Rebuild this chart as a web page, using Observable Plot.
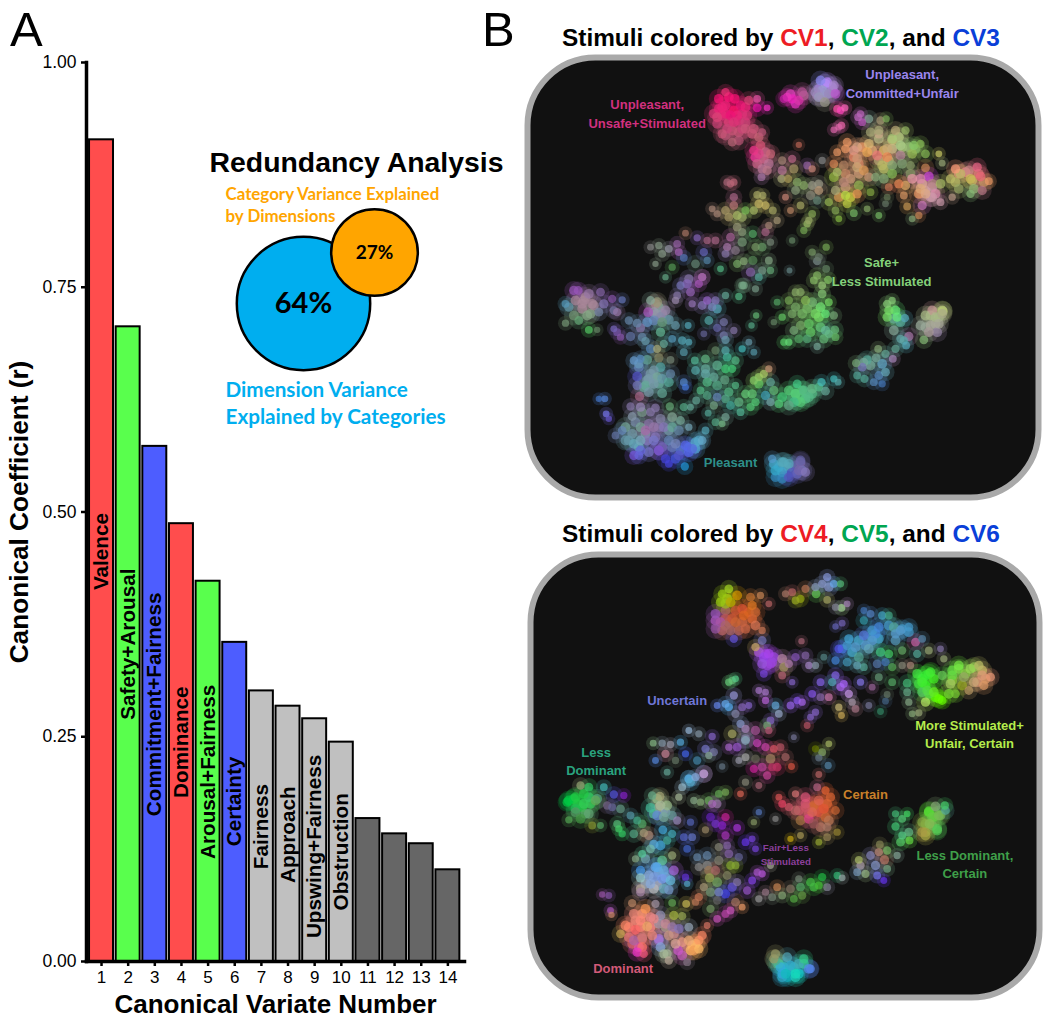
<!DOCTYPE html>
<html><head><meta charset="utf-8">
<script src="https://cdn.jsdelivr.net/npm/d3@7"></script>
<script src="https://cdn.jsdelivr.net/npm/@observablehq/plot@0.6"></script>
<style>
html,body{margin:0;padding:0;background:#fff}
#root{position:relative;width:1050px;height:1019px;overflow:hidden;font-family:"Liberation Sans",Arial,sans-serif}
.h{position:absolute;font-weight:bold;font-size:24.4px;white-space:nowrap;color:#000;line-height:28px}
.l{position:absolute;font-size:49px;line-height:49px;color:#000}
</style></head><body><div id="root"></div>
<script>
// ---- Panel A data
const variateNumbers=[1,2,3,4,5,6,7,8,9,10,11,12,13,14];
const canonicalR=[.914,.706,.573,.487,.423,.355,.301,.284,.27,.244,.159,.142,.131,.102];
const barKinds=["r","g","b","r","g","b","s","s","s","s","n","n","n","n"];
const barLabels=["Valence","Safety+Arousal","Commitment+Fairness","Dominance","Arousal+Fairness","Certainty","Fairness","Approach","Upswing+Fairness","Obstruction"];
const labelCentres=[.456,.353,.286,.244,.211,.178,.15,.141,.128,.122];
const yTicks=[0,.25,.5,.75,1];
const vennValues=[64,27];
// ---- Panel B data: [x, y, CV scores as one hex digit per colour channel]
// Embedding; one list per quadrant of each panel.
const topNW=[[600,125,"e37"],[580,145,"f17"],[628,145,"f17"],[600,165,"e27"],[565,190,"d37"],[625,180,"f16"],[650,190,"d37"],[670,150,"d47"],[695,145,"e5a"],[695,172,"e1a"],[725,172,"f3c"],[590,195,"d37"],[640,210,"d37"],[610,215,"d47"],[660,215,"c47"],[575,220,"c47"],[620,240,"c57"],[590,250,"c57"],[640,245,"c57"],[685,235,"c57"],[710,245,"b57"],[620,275,"b67"],[600,255,"b57"],[680,250,"c57"],
[685,300,"e38"],[705,285,"d57"],[735,310,"c67"],[715,325,"c68"],[730,340,"b79"],[710,355,"b79"],[708,380,"a7a"],[690,320,"e39"],[775,145,"c2a"],[770,330,"a87"],[768,385,"aa7"],[770,360,"b79"],
[615,400,"b67"],[605,395,"a67"],[625,395,"b67"],
[560,475,"a87"],[575,490,"a87"],[600,480,"a96"],[625,440,"a68"],[625,465,"b77"],[610,500,"a96"],[635,495,"ab6"],[660,480,"7b5"],[650,500,"9a6"],[695,433,"aa6"],[712,435,"aa6"],[700,460,"cb6"],[720,465,"cb6"],[742,480,"aa6"],[685,480,"ab6"],[755,510,"a97"],[730,525,"a87"],[635,530,"997"],[650,545,"897"],
[480,548,"a76"],[515,562,"86b"],[545,570,"a68"],[570,570,"a68"],[400,585,"898"],[375,590,"888"],[430,595,"99a"],[455,580,"96a"],[410,610,"898"],[390,640,"898"],[460,605,"a6b"],[475,622,"57b"],[440,650,"595"],[535,605,"66b"],[545,630,"58a"],[510,640,"687"],
[615,560,"a69"],[682,550,"5a6"],[720,545,"a68"],[735,575,"787"],[690,590,"796"],[710,590,"696"],[650,575,"797"],[605,590,"a7a"],[600,610,"87a"],[630,600,"878"],[585,655,"5b8"],[635,640,"7a6"],[655,632,"8a7"],[682,630,"585"],[730,630,"8a8"],[675,665,"86a"],[710,660,"798"],[735,660,"6a7"],[700,680,"5a9"],[420,680,"6a8"],[530,680,"96a"],[490,685,"87a"]];
const topNE=[[5,140,"e3b"],[20,145,"e2b"],[40,150,"d3a"],[50,125,"b59"],[125,95,"b8f"],[105,90,"88e"],[145,105,"a8c"],[110,120,"99c"],[90,125,"98b"],[130,130,"98b"],[100,140,"99b"],[150,130,"b5c"],[118,155,"998"],
[165,180,"f4b"],[155,175,"f5a"],[178,172,"f6b"],[160,230,"d6a"],[145,238,"d6a"],[168,225,"e6a"],[225,190,"b6b"],[230,215,"b5b"],[250,205,"8a9"],[218,200,"b6b"],
[285,210,"a97"],[302,205,"7a5"],[280,240,"aa7"],[255,245,"aa7"],[330,240,"ba7"],[360,240,"9b6"],[340,260,"ab7"],[320,265,"ac7"],[345,285,"ac8"],[385,285,"8c6"],[405,280,"8b5"],[185,275,"e96"],[215,290,"da8"],[250,280,"db7"],[280,265,"bb8"],[305,295,"ca7"],[245,305,"ea5"],[155,305,"e96"],[180,295,"e96"],[205,300,"d98"],[275,315,"e77"],[305,320,"e85"],[345,315,"b89"],[380,310,"9b5"],[420,310,"8b5"],[460,310,"cc6"],[470,338,"9a7"],[145,340,"d85"],[175,345,"b86"],[215,325,"c97"],[215,350,"ca7"],[235,360,"d95"],[180,370,"c86"],[145,380,"9b4"],[155,365,"ab6"],[110,330,"888"],[290,345,"bb6"],[295,355,"bb6"],[320,345,"8a7"],[350,340,"8a7"],[375,345,"896"],[375,370,"896"],[270,380,"8a7"],[295,385,"8a7"],[320,370,"8b5"],[420,352,"c85"],
[430,378,"c4d"],[405,385,"d8a"],[380,385,"e9a"],[360,405,"da6"],[405,415,"da7"],[440,400,"b88"],[465,400,"ab6"],[495,385,"bb6"],[510,355,"f97"],[550,360,"c88"],[575,350,"e68"],[525,370,"bb6"],[585,378,"e67"],[610,392,"e96"],[555,385,"cb5"],[520,415,"9a6"],[590,420,"b78"],[555,430,"8b7"],[500,440,"b98"],[465,455,"c9a"],[440,440,"c9a"],[420,430,"da8"],[410,465,"c7b"],[365,468,"c95"],[380,505,"8a7"],[400,495,"c85"],[355,435,"d96"],[310,410,"c75"],[340,400,"e85"],
[130,455,"9b5"],[150,480,"8a5"],[160,505,"8b4"],[205,488,"7b6"],[245,475,"8a6"],[280,495,"7b6"],[255,425,"8a4"],[220,405,"9b5"],[180,435,"bd4"],[160,440,"d95"],[185,460,"bc4"],[215,430,"e95"],[195,385,"c97"],[175,395,"b87"],[300,460,"676"],[305,440,"675"],[20,570,"686"],[65,520,"9b6"],[80,490,"8a5"],[55,540,"7a5"],[70,510,"9a6"],[100,400,"998"],[80,405,"998"],[100,420,"b97"],[75,435,"887"],[95,450,"687"],[55,405,"8a6"],[35,395,"8a6"],[65,345,"96a"],[80,355,"c87"],[20,325,"b68"],[25,355,"a96"],[40,283,"b65"],[0,440,"c87"],[15,480,"b86"],[45,465,"aa6"],[8,385,"a95"],[30,420,"897"],
[80,605,"796"],[122,590,"7a5"],[100,620,"676"],[95,632,"788"],[12,660,"688"],[122,655,"686"]];
const topSW=[[120,100,"59b"],[158,60,"95b"],[175,90,"a89"],[190,70,"97a"],[225,65,"86a"],[205,105,"a89"],[170,115,"a89"],[260,85,"85a"],[290,88,"67b"],[235,100,"87b"],[220,125,"78a"],[265,120,"77a"],[185,135,"8a8"],[145,135,"797"],[160,150,"6a7"],[120,158,"797"],[190,178,"5c6"],[215,178,"686"],[275,125,"97a"],
[275,185,"75a"],[285,200,"85a"],[265,175,"76b"],[310,150,"68a"],[335,158,"68a"],[345,172,"87a"],[315,198,"67a"],[350,200,"68a"],[360,212,"69a"],
[395,95,"997"],[375,90,"8a9"],[420,120,"98a"],[385,125,"99a"],[368,125,"a5b"],[405,140,"88a"],[385,150,"68b"],[365,155,"69c"],[430,148,"69a"],[410,155,"697"],[450,165,"69a"],[405,185,"6b9"],[440,205,"59b"],[415,220,"6a9"],[470,210,"5ab"],[490,215,"5ab"],[475,245,"59a"],[488,165,"5ab"],
[530,20,"a6a"],[485,40,"86b"],[465,45,"77b"],[520,40,"a5b"],[495,65,"96b"],[455,75,"87a"],[450,90,"98a"],[545,90,"96c"],[570,90,"87b"],[560,110,"78b"],[500,100,"97b"],[530,105,"87b"],[600,75,"6a9"],[640,78,"5b8"],[655,45,"7a8"],[690,55,"798"],[575,115,"5ab"],
[550,150,"5aa"],[595,155,"77a"],[575,172,"66a"],[535,190,"669"],[595,195,"77a"],[625,180,"87a"],[600,208,"69a"],[650,235,"4bb"],[670,215,"69a"],[685,245,"59a"],
[570,240,"686"],[600,240,"5aa"],[605,260,"4b9"],[508,270,"5b9"],[540,265,"6b8"],[575,285,"6b9"],[630,270,"5b8"],[510,300,"5aa"],[540,295,"6a9"],[540,310,"6aa"],[600,295,"4c7"],[620,295,"4c7"],[565,320,"6a9"],
[545,335,"5b8"],[575,345,"5a8"],[610,365,"5b8"],[630,345,"5b8"],[600,385,"5a8"],[525,360,"5b8"],[575,380,"68b"],[545,375,"5a8"],[598,328,"6a8"],[512,390,"6a9"],[475,410,"5a8"],[495,410,"6a9"],[433,408,"6a7"],[548,428,"5a9"],[565,405,"7a8"],
[375,235,"58b"],[395,235,"aa7"],[345,265,"58b"],[365,268,"6a9"],[325,270,"69c"],[400,262,"886"],[435,268,"787"],[340,290,"68b"],[405,290,"5aa"],[385,300,"79a"],[435,310,"68a"],[335,318,"55c"],[395,320,"7a9"],[370,325,"79a"],[410,325,"69a"],[430,335,"5a9"],[335,345,"77b"],[360,345,"6a9"],[385,340,"79a"],[370,365,"79a"],[410,368,"6a9"],
[475,335,"58c"],[480,350,"47d"],[220,385,"47c"],[238,385,"58d"],[242,430,"77e"],[250,445,"65c"],
[342,378,"a68"],[315,408,"87a"],[345,410,"98b"],[390,412,"87a"],[375,425,"87a"],[350,425,"798"],[320,438,"89a"],[330,455,"78a"],[300,470,"7a9"],[270,495,"67a"],[290,480,"68b"],[345,470,"7a9"],[360,480,"a6a"],[385,470,"97a"],[405,445,"88a"],[440,440,"8a9"],[465,450,"7a9"],[415,470,"87b"],[440,470,"6a9"],[490,470,"7ab"],[460,480,"68a"],[325,520,"6ab"],[345,510,"7ab"],[300,510,"69a"],[325,555,"75d"],[345,540,"66d"],[400,540,"75c"],[385,510,"77c"],[420,565,"44d"],[430,510,"68b"],[460,555,"55c"],[480,525,"56e"],[510,515,"5ac"],[530,510,"6ac"],[478,588,"29d"],[500,535,"56d"],[450,520,"78b"],
[730,295,"c97"],[700,320,"9c6"],[715,310,"ac6"],[685,330,"8c6"],[660,370,"6c7"],[690,395,"5c7"],[640,395,"6b8"],[675,410,"5c7"],[615,405,"4a9"],[645,425,"5b9"],[600,440,"7a9"],[590,460,"7b8"],[570,455,"5a8"],[540,480,"5ab"],[735,335,"6a9"],[745,360,"6b7"],[720,375,"4ab"],[735,395,"7aa"],[770,380,"4c7"],[760,400,"5c7"],
[740,565,"59c"],[750,600,"3ac"],[775,575,"5ab"],[770,625,"38b"],
[755,95,"5a6"],[770,140,"6c6"],[775,215,"5c6"],[745,155,"686"],[692,135,"6b7"],[678,165,"5a8"],[650,45,"7a8"]];
const topSE=[[95,15,"8b6"],[85,30,"8b6"],[128,28,"8c6"],[110,45,"9c7"],[110,70,"8c7"],[130,95,"7d6"],[105,110,"7e7"],[120,130,"6e7"],[100,140,"7d6"],[80,95,"7b7"],[60,90,"8b5"],[65,115,"7b6"],[45,65,"8a6"],[30,65,"8a6"],[10,90,"7a5"],[30,110,"7a6"],[50,130,"7b6"],[70,160,"6c6"],[75,185,"6c6"],[105,170,"6c7"],[120,180,"6b9"],[148,178,"6b7"],[130,190,"6b8"],[115,205,"6b7"],[150,200,"6b6"],[95,228,"7a9"],[25,180,"7a7"],[10,215,"6d7"],[40,205,"5a6"],[65,205,"5a7"],[20,130,"7a6"],[45,165,"7a6"],[145,135,"7a7"],[90,130,"7d6"],
[325,145,"6a9"],[345,155,"5a9"],[358,143,"5ab"],[325,180,"8a9"],[355,210,"5aa"],[370,198,"a7a"],[345,205,"6aa"],[362,225,"5ab"],[330,235,"6a9"],[322,265,"a8b"],[278,235,"8a7"],[300,250,"6a9"],[290,280,"6ac"],[255,285,"7a9"],[272,262,"7a9"],[235,275,"7a9"],[245,268,"5a9"],[212,278,"7a7"],[230,290,"77b"],[215,315,"5a9"],[237,325,"5a9"],[280,315,"58b"],[290,340,"47b"],[265,335,"58b"],[300,305,"6ab"],
[440,120,"c99"],[472,122,"bc7"],[420,135,"ab8"],[450,140,"ab8"],[470,130,"aa8"],[435,165,"aa9"],[455,185,"98a"],[460,160,"aa9"],[415,208,"8b7"],[405,165,"9a9"],[430,185,"a99"],
[35,340,"4c8"],[10,360,"5c7"],[30,370,"5c7"],[55,360,"5b8"],[80,355,"6b8"],[108,335,"4bb"],[120,362,"6a9"],[45,395,"5c7"],[25,395,"4b8"],[10,405,"6a8"],[70,380,"5b8"],[145,325,"4bb"],[158,335,"5aa"],
[10,580,"5ab"],[40,600,"76a"],[60,605,"87b"],[45,570,"66a"],[10,620,"55b"]];
// Further overlapping points inside the dense clusters of the upper map
const topDense=[[590,170,"e27"],[610,140,"f17"],[645,165,"e17"],[660,170,"e27"],[635,195,"e27"],[600,190,"e27"],[580,175,"e27"],[615,195,"e17"],[650,235,"c47"],[605,235,"c47"],[660,235,"c57"],[575,200,"d47"],[625,215,"d37"],[665,195,"d37"],[700,260,"c67"],[640,270,"b57"],[720,305,"c68"],[700,310,"d48"],[695,340,"c68"],[725,360,"b78"],
[795,130,"d4b"],[810,160,"d3b"],[835,135,"b69"],[880,115,"a8d"],[900,100,"a9e"],[920,110,"a8d"],[890,140,"a8b"],[905,130,"99c"],[925,125,"a7c"],[875,135,"a8b"],
[1060,250,"ca8"],[1100,270,"cb7"],[1040,300,"da7"],[1010,290,"e96"],[1075,300,"db6"],[1120,260,"ab7"],[1130,290,"ac7"],[1150,290,"9b7"],[1170,295,"8b6"],[1100,295,"cb8"],[985,320,"e86"],[1000,340,"d86"],[1060,330,"ba7"],[1090,330,"cb7"],[1000,370,"c97"],[1030,380,"c97"],
[1190,400,"da9"],[1200,420,"da9"],[1220,410,"c9a"],[1215,440,"c9a"],[1230,430,"d8a"],[1180,430,"e96"],[1300,370,"d97"],[1320,365,"e88"],[1340,390,"cb6"],[1360,370,"d77"],[1375,395,"c96"],[1345,415,"9b7"],[1290,395,"bb6"],[975,440,"cc4"],[960,410,"c97"],[930,420,"aa7"],
[400,1130,"87a"],[370,1120,"87a"],[430,1140,"79a"],[360,1150,"89a"],[320,1150,"79a"],[310,1170,"69a"],[340,1190,"6ab"],[365,1170,"87b"],[390,1160,"87b"],[410,1190,"76b"],[440,1190,"67b"],[465,1200,"57c"],[490,1190,"57d"],[450,1225,"45d"],[430,1240,"44d"],[490,1205,"56e"],[510,1195,"5ad"],[340,1215,"66d"],[520,1170,"5ac"],[400,1200,"85c"],[370,1205,"77c"],
[180,740,"a89"],[150,750,"a89"],[200,760,"a89"],[170,760,"a89"],[145,720,"95b"],[130,770,"69a"],[195,790,"8a8"],
[400,770,"8a9"],[390,760,"a88"],[410,790,"98a"],[395,790,"89a"],[340,940,"69b"],[375,970,"79a"],[385,985,"79a"],[365,990,"79a"],[400,1000,"6a9"],[355,1010,"6a9"],
[1085,760,"8c7"],[1090,780,"7d6"],[1100,750,"8c7"],[1110,780,"6e7"],[1115,800,"6e7"],[1085,800,"7d6"],
[745,1240,"4ac"],[760,1250,"4ac"],[770,1235,"5ab"],[790,1250,"5ab"],[810,1245,"66a"],[825,1235,"76a"],[800,1265,"55b"],[785,1275,"45b"],[750,1280,"38b"],[770,1265,"4ac"],[830,1260,"77b"],[815,1270,"66b"],
[1215,795,"ab8"],[1230,820,"aa9"],[1240,800,"ab8"],[1200,830,"9a9"],[1250,780,"bc7"],
[830,1020,"5c7"],[810,1030,"5c7"],[840,1045,"5c8"],[880,1010,"5b8"],[860,1030,"5b8"],[815,1050,"5c7"],[700,1000,"6c6"],[680,1030,"6c7"]];

const botNW=[[590,130,"9c1"],[610,115,"ad2"],[635,135,"d90"],[675,140,"c73"],[705,135,"c85"],[730,160,"b66"],[570,210,"a5b"],[600,180,"a66"],[630,180,"c53"],[670,185,"d62"],[680,205,"d63"],[590,240,"b66"],[625,265,"65d"],[690,225,"d75"],[710,240,"c75"],[570,190,"95b"],[605,145,"ac1"],[650,215,"c64"],[610,215,"b65"],[640,240,"b65"],[600,205,"b55"],
[690,290,"ca6"],[710,270,"77b"],[720,310,"a4d"],[735,340,"a4d"],[715,370,"74d"],[700,305,"a5d"],[745,320,"94d"],[725,345,"94d"],[770,325,"b8a"],[770,375,"b67"],[775,350,"a96"],
[620,390,"6b7"],[610,395,"6c7"],[630,385,"5c8"],
[575,465,"68e"],[600,460,"6ae"],[625,435,"99d"],[610,470,"5ae"],[630,490,"88a"],[650,470,"86b"],[670,465,"86c"],[700,420,"a7c"],[720,425,"a7c"],[720,450,"b6d"],[750,465,"6ad"],[760,490,"9ac"],[735,510,"86c"],[645,520,"89c"],[660,535,"a8b"],[725,525,"7a7"],[660,570,"8ab"],[620,550,"aa6"],[690,540,"a59"],[730,540,"b57"],
[383,578,"8b8"],[410,578,"89a"],[435,582,"99a"],[465,575,"5ad"],[490,540,"9bd"],[520,550,"89a"],[560,558,"86c"],[420,610,"c89"],[390,630,"58d"],[480,610,"46e"],[515,630,"48a"],[540,595,"77c"],[550,615,"8a9"],[565,605,"77a"],[450,630,"676"],[425,665,"6a9"],[490,685,"5ad"],[535,670,"a8c"],[590,648,"678"],
[610,590,"a6c"],[635,590,"95c"],[660,565,"88a"],[695,578,"c4b"],[720,590,"c4a"],[745,595,"d56"],[765,590,"b56"],[640,630,"99a"],[660,620,"aaa"],[690,625,"665"],[685,655,"c29"],[735,625,"a86"],[710,650,"b49"],[740,650,"b36"],[725,675,"c49"],[755,650,"c36"]];
const botNE=[[20,125,"b66"],[45,145,"9a1"],[30,150,"9a2"],[60,115,"b75"],[92,130,"6c5"],[125,80,"89d"],[110,100,"89c"],[145,100,"6ae"],[165,100,"5b7"],[130,110,"89c"],[125,148,"aa6"],[90,110,"89b"],[0,130,"a76"],
[168,172,"ad9"],[185,160,"a8b"],[150,170,"889"],[170,218,"76b"],[150,228,"66b"],[235,180,"47b"],[255,190,"58c"],[235,210,"39a"],[48,272,"a67"],
[290,195,"4ac"],[310,195,"4a8"],[325,230,"5a9"],[370,230,"49c"],[345,240,"59c"],[260,240,"49c"],[280,230,"48d"],[190,265,"4ad"],[235,255,"57d"],[260,270,"59c"],[160,295,"55e"],[185,285,"49c"],[210,290,"59c"],[250,295,"6ab"],[285,305,"4c8"],[310,310,"4c6"],[350,300,"6a6"],[390,275,"c6a"],[430,300,"9a7"],[465,295,"87a"],[475,325,"9a7"],[150,330,"48d"],[185,335,"49b"],[220,320,"5a9"],[235,350,"5a9"],[115,320,"588"],[275,340,"57a"],[300,335,"47b"],[320,350,"5a5"],[350,345,"887"],[375,345,"a87"],[365,398,"4b7"],[330,270,"59b"],[410,265,"58a"],[395,310,"5a9"],[215,345,"6ab"],[280,380,"697"],[320,395,"5a6"],
[395,370,"4e4"],[420,375,"3e3"],[435,365,"4e3"],[410,395,"4e3"],[460,445,"6f0"],[420,455,"be6"],[365,425,"6a8"],[425,420,"5d4"],[445,425,"6e2"],[500,375,"6d4"],[520,345,"7e4"],[555,355,"9d5"],[580,345,"bb6"],[590,375,"d97"],[615,380,"e97"],[565,395,"ca7"],[595,405,"d96"],[490,430,"7d3"],[510,430,"7c3"],[530,405,"9a2"],[550,420,"b96"],[495,400,"ac6"],[370,455,"8a8"],[400,487,"9a7"],[380,490,"8a7"],[285,483,"386"],[470,375,"6c5"],[535,380,"9a6"],
[150,375,"86e"],[175,400,"a6f"],[190,430,"c9e"],[165,410,"a6e"],[200,455,"a9a"],[210,475,"a78"],[250,465,"779"],[225,395,"87e"],[260,410,"969"],[300,452,"468"],[305,432,"676"],[160,470,"cb7"],[168,495,"ca5"],[65,525,"b56"],[90,485,"86c"],[75,500,"86c"],[105,395,"86e"],[80,430,"85e"],[35,450,"85e"],[50,455,"a6e"],[30,320,"85b"],[70,345,"a8c"],[90,345,"89a"],[60,315,"86a"],[10,340,"a7a"],[20,395,"86c"],[140,395,"5ab"],[130,440,"c7a"],[105,440,"86a"],[15,465,"96e"],
[25,560,"779"],[90,595,"670"],[130,580,"ab6"],[110,605,"8a6"],[100,622,"678"],[18,648,"d54"],[128,645,"58a"],[0,620,"a66"]];
const botSW=[[130,90,"0c4"],[150,80,"2c4"],[165,45,"9a7"],[190,50,"3c6"],[235,50,"4bb"],[265,72,"55d"],[295,75,"82c"],[175,100,"3c5"],[210,90,"6a5"],[175,70,"2c4"],[260,110,"669"],[285,115,"698"],[190,130,"6a7"],[150,125,"596"],[165,145,"494"],[130,148,"5a5"],[200,165,"893"],[225,165,"5a6"],[245,105,"768"],
[280,175,"4c6"],[290,190,"3c6"],[275,160,"5b7"],[315,135,"59a"],[335,150,"4a8"],[350,160,"5a6"],[325,190,"5a8"],[355,188,"a97"],[370,195,"a87"],
[403,78,"aa7"],[380,75,"6a8"],[425,105,"9b8"],[405,105,"ab9"],[375,112,"4b9"],[395,135,"68d"],[440,135,"699"],[455,150,"98b"],[415,140,"7a9"],
[412,178,"4ad"],[440,190,"4ab"],[425,210,"4a9"],[475,200,"56c"],[500,200,"67c"],[485,235,"46c"],[495,155,"56b"],
[535,10,"b9c"],[490,25,"5ad"],[470,50,"9bc"],[495,35,"5ac"],[460,80,"ab9"],[510,20,"8ad"],[550,90,"6a5"],[580,70,"6a5"],[560,100,"a6b"],[525,95,"8a7"],[505,90,"8a8"],[600,65,"7a5"],[645,70,"d65"],[660,35,"887"],[700,45,"a67"],[575,100,"97a"],
[555,140,"62b"],[600,140,"c29"],[570,160,"73c"],[540,178,"986"],[590,165,"82c"],[635,172,"a3d"],[600,195,"a3b"],[660,215,"63e"],[680,205,"74d"],[690,235,"74d"],[700,125,"57b"],[685,155,"896"],
[580,230,"887"],[605,225,"86a"],[610,250,"86a"],[515,260,"68a"],[545,255,"68a"],[580,270,"887"],[640,260,"669"],[520,290,"888"],[545,285,"888"],[550,300,"975"],[615,285,"8a3"],[630,285,"8a3"],[570,300,"a66"],
[552,322,"9a5"],[575,335,"7a6"],[620,350,"65d"],[635,335,"87a"],[600,370,"44e"],[535,350,"a97"],[580,365,"78c"],[555,365,"797"],[605,315,"886"],[520,380,"c75"],[482,400,"cb5"],[510,395,"b75"],[440,397,"6a5"],[555,415,"796"],[575,390,"666"],
[385,222,"5ad"],[405,225,"4ad"],[350,250,"5c9"],[375,235,"7ba"],[330,265,"8a8"],[410,270,"6c9"],[440,255,"9a7"],[345,300,"49e"],[395,290,"5ae"],[415,300,"6ad"],[445,300,"a6d"],[345,322,"9cc"],[385,320,"79d"],[370,315,"8ad"],[410,325,"79e"],[435,330,"6bd"],[345,355,"ba9"],[385,355,"bbb"],[415,355,"6ab"],[375,340,"8ad"],[430,358,"79c"],
[480,320,"63d"],[485,340,"5ac"],[230,372,"95a"],[250,375,"85a"],[255,420,"a5b"],[258,433,"c86"],
[345,365,"a8a"],[320,398,"b86"],[300,465,"f86"],[285,490,"ca5"],[325,430,"e87"],[360,415,"f95"],[390,400,"a9a"],[405,435,"99b"],[345,450,"f87"],[365,468,"ea6"],[330,478,"f66"],[385,445,"e88"],[420,460,"c89"],[445,435,"ab4"],[470,437,"9a5"],[440,470,"97a"],[490,470,"9ab"],[460,475,"87b"],[325,510,"a6a"],[350,500,"c77"],[335,545,"e3c"],[350,530,"f76"],[400,505,"a7d"],[380,495,"e87"],[425,550,"ab9"],[430,495,"c98"],[458,540,"c5c"],[510,520,"fb6"],[530,495,"f86"],[485,575,"878"],[505,540,"e95"],[450,520,"da9"],[405,530,"8ad"],[490,510,"ea7"],
[735,285,"aa9"],[710,310,"b5d"],[695,305,"a5c"],[680,330,"84e"],[665,360,"95c"],[700,385,"999"],[650,410,"e96"],[630,395,"a76"],[615,420,"c5b"],[600,430,"b4a"],[575,445,"c5b"],[545,465,"d76"],[755,350,"c85"],[740,380,"787"],[770,375,"8a7"],[720,365,"978"],
[750,550,"996"],[760,580,"4c9"],[765,590,"3ad"],[770,610,"3ad"],[750,570,"5a8"],
[750,145,"888"],[770,100,"e46"],[760,80,"d55"]];
const botSE=[[100,12,"b66"],[120,60,"e63"],[135,80,"d63"],[115,115,"d53"],[150,120,"c63"],[85,105,"c63"],[60,80,"d57"],[30,70,"d77"],[10,110,"c56"],[45,150,"a74"],[70,145,"d48"],[105,170,"b76"],[155,185,"983"],[100,215,"9a3"],[15,205,"ca1"],[45,195,"a95"],[125,200,"985"],[85,160,"955"],[100,90,"d65"],[80,125,"d65"],[30,120,"b66"],[60,110,"c56"],[130,150,"b75"],[125,170,"a76"],[95,50,"b68"],
[330,130,"4b7"],[365,130,"4d6"],[350,145,"5c7"],[330,168,"4c7"],[350,195,"5c8"],[370,185,"6b8"],[372,210,"6d4"],[345,215,"5c6"],[335,255,"8a9"],[283,222,"885"],[305,240,"7b6"],[297,268,"b76"],[280,245,"b87"],[255,255,"88b"],[220,268,"ab6"],[270,285,"89c"],[240,310,"9b8"],[215,305,"79b"],[275,315,"77e"],[295,330,"63e"],[225,285,"a9a"],[305,295,"7a8"],
[430,122,"5d3"],[478,105,"4c6"],[450,108,"8a7"],[440,140,"6c4"],[460,135,"7b5"],[410,155,"8a4"],[455,175,"5c5"],[420,195,"aa4"],[410,185,"a94"],[432,160,"8b5"],[480,120,"5a9"],
[40,325,"787"],[15,355,"876"],[50,375,"694"],[25,385,"5a4"],[85,350,"4b4"],[110,320,"2b4"],[125,350,"889"],[75,335,"4b4"],[45,350,"5a6"],[155,315,"3b7"],[170,322,"9aa"],[100,345,"4b3"],
[5,560,"5ab"],[30,610,"1db"],[55,565,"3c8"],[75,595,"58e"],[0,610,"1bb"],[40,580,"4ab"],[15,585,"3ac"]];
// Further overlapping points inside the dense clusters of the lower map
const botDense=[[620,205,"c53"],[650,175,"d53"],[655,195,"d62"],[630,215,"c63"],[690,185,"c63"],[680,165,"d72"],[585,155,"9c1"],[600,160,"9b2"],[615,155,"ba0"],[585,215,"a5a"],[570,235,"95a"],[600,225,"a66"],[615,240,"a66"],[660,235,"c64"],
[715,320,"94e"],[730,310,"a4e"],[740,335,"94d"],[710,340,"95d"],
[1040,260,"49c"],[1000,270,"4ac"],[1020,285,"59c"],[1060,265,"4ac"],[1090,225,"49c"],[1110,250,"59c"],[1130,235,"49c"],[1150,245,"49c"],[1050,250,"48d"],[950,295,"47d"],[980,305,"4ac"],
[1190,385,"4e3"],[1210,370,"4e3"],[1180,400,"4d4"],[1200,405,"3e2"],[1225,385,"4e2"],[1230,440,"5f0"],[1250,450,"6f0"],[1210,430,"5d4"],[1190,425,"5c6"],[1280,360,"6d4"],[1300,355,"7d4"],[1320,370,"8c4"],[1345,350,"9c5"],[1370,360,"cb6"],[1380,385,"d96"],[1355,395,"d97"],[1280,390,"8c3"],
[125,755,"0c4"],[145,745,"1c4"],[155,760,"2c4"],[170,770,"2c4"],[195,760,"3c5"],[150,775,"2b5"],[180,790,"5a6"],[190,740,"3c6"],[215,745,"5a8"],
[330,1110,"e87"],[310,1130,"f87"],[350,1090,"f97"],[375,1100,"e88"],[375,1130,"f88"],[345,1130,"f87"],[310,1160,"e77"],[320,1180,"d66"],[350,1165,"e77"],[340,1190,"d5a"],[355,1210,"e57"],[400,1170,"97c"],[415,1210,"ab9"],[430,1230,"ba9"],[470,1175,"e98"],[500,1185,"fa7"],[520,1170,"f96"],[495,1200,"fb6"],[520,1195,"fb6"],[445,1150,"c88"],[400,1120,"a9a"],[420,1130,"a98"],[470,1215,"c6b"],
[360,925,"7ab"],[390,950,"6ae"],[400,965,"7ad"],[420,980,"7ad"],[360,1000,"9ab"],[395,1005,"aab"],[400,770,"aa8"],[395,745,"9b8"],[385,790,"5b9"],[420,785,"8ab"],
[880,760,"d53"],[895,775,"d53"],[905,760,"d63"],[880,785,"d54"],[900,800,"c63"],[860,770,"d63"],[840,760,"d57"],[850,790,"c56"],[820,780,"c56"],
[1210,785,"5d3"],[1225,800,"6c4"],[1245,795,"7b5"],[1220,825,"7b5"],[1200,820,"8b4"],[1235,840,"5c5"],[1200,845,"aa4"],
[755,1240,"5a8"],[745,1225,"996"],[775,1250,"3bc"],[790,1260,"2bc"],[805,1250,"3bb"],[820,1270,"1cc"],[835,1240,"3c9"],[850,1255,"58e"],[785,1280,"1ab"],[810,1280,"2cb"],[770,1280,"3ac"]];

// ---- Code-side helpers: place the quadrant lists in a common embedding space
const shift=(list,dx,dy)=>list.map(([x,y,hex])=>({x:x+dx,y:y+dy,color:"#"+hex}));
const embed=(nw,ne,sw,se,dense)=>{
  const pts=[...shift(nw,0,0),...shift(dense,0,0),...shift(ne,780,0),...shift(sw,0,660),...shift(se,780,660)];
  // Dense parts of the map draw larger dots than isolated ones.
  return pts.map(p=>{
    const n=pts.filter(q=>Math.hypot(q.x-p.x,q.y-p.y)<50).length;
    const core=2.7+Math.min(n,9)/9*2.2;
    return {...p,core,halo:core*2.05};
  });
};
const topPoints=embed(topNW,topNE,topSW,topSE,topDense);
const botPoints=embed(botNW,botNE,botSW,botSE,botDense);
const topLabels=[
 {x:365,y:186,t:"Unpleasant,\nUnsafe+Stimulated",c:"#d1307f",s:13},
 {x:1130,y:96,t:"Unpleasant,\nCommitted+Unfair",c:"#9a86ee",s:13},
 {x:1068,y:660,t:"Safe+\nLess Stimulated",c:"#84d07a",s:13},
 {x:615,y:1232,t:"Pleasant",c:"#2e8f8a",s:13}];
const botLabels=[
 {x:455,y:447,t:"Uncertain",c:"#6f77d8",s:13},
 {x:212,y:628,t:"Less\nDominant",c:"#2aa37f",s:13},
 {x:1332,y:548,t:"More Stimulated+\nUnfair, Certain",c:"#b5ec4c",s:13},
 {x:1020,y:728,t:"Certain",c:"#c8802a",s:13},
 {x:781,y:908,t:"Fair+Less\nStimulated",c:"#8a3f9a",s:9.8},
 {x:1318,y:938,t:"Less Dominant,\nCertain",c:"#3f9f49",s:13},
 {x:293,y:1250,t:"Dominant",c:"#d35a78",s:13}];

const root=document.getElementById("root");
const place=(el,l,t)=>{el.style.position="absolute";el.style.left=l+"px";el.style.top=t+"px";el.style.background="transparent";root.appendChild(el);};
const fam='"Liberation Sans",Arial,sans-serif';

// ---- Panel A
const bars=variateNumbers.map((n,i)=>({n,r:canonicalR[i],kind:barKinds[i]}));
const labelled=barLabels.map((t,i)=>({n:variateNumbers[i],t,at:labelCentres[i]}));
place(Plot.plot({
  width:470,height:1019,marginLeft:86,marginRight:6,marginTop:62,marginBottom:58,
  style:{fontFamily:fam,color:"#000",background:"transparent"},
  x:{domain:variateNumbers,range:[87.7,460.7],paddingInner:.1,paddingOuter:.05,round:false,axis:null},
  y:{domain:[0,1],axis:null},
  color:{domain:["r","g","b","s","n"],range:["#ff4d4d","#59ff4d","#4d5dff","#c0c0c0","#666666"]},
  marks:[
    Plot.barY(bars,{x:"n",y:"r",fill:"kind",stroke:"#000",strokeWidth:2}),
    Plot.text(labelled,{x:"n",y:"at",text:"t",rotate:-90,fontSize:20.7,fontWeight:"bold",fill:"#000"}),
    Plot.frame({anchor:"left",stroke:"#000",strokeWidth:3.5}),
    Plot.frame({anchor:"bottom",stroke:"#000",strokeWidth:3.5}),
    Plot.axisY({ticks:yTicks,tickFormat:d3.format(".2f"),tickSize:5,tickPadding:5,fontSize:17.5,label:null,strokeWidth:2.5,stroke:"#000",fill:"#000"}),
    Plot.axisX({tickSize:5,tickPadding:4,fontSize:17,label:null,strokeWidth:2.5,stroke:"#000",fill:"#000"}),
    Plot.text(["Canonical Coefficient (r)"],{frameAnchor:"left",textAnchor:"middle",dx:-67,rotate:-90,fontSize:26.2,fontWeight:"bold",fill:"#000"}),
    Plot.text(["Canonical Variate Number"],{frameAnchor:"bottom",dy:51,fontSize:26,fontWeight:"bold",fill:"#000"})
  ]}),0,0);

// ---- Redundancy inset
const venn=[{x:113,y:163,v:vennValues[0],c:"#00aeef"},{x:184,y:112,v:vennValues[1],c:"#ffa500"}];
const callouts=[{x:35,y:54,t:"Category Variance Explained",c:"#ffa500",s:16.9},{x:35,y:76,t:"by Dimensions",c:"#ffa500",s:16.9},
 {x:35,y:250,t:"Dimension Variance",c:"#00aeef",s:20.7},{x:35,y:277,t:"Explained by Categories",c:"#00aeef",s:20.7}];
place(Plot.plot({
  width:320,height:300,margin:0,
  style:{background:"transparent",fontFamily:"Lato,sans-serif"},
  x:{domain:[0,320],axis:null},y:{domain:[0,300],reverse:true,axis:null},
  r:{domain:[0,64],range:[0,66.7]},color:{type:"identity"},
  marks:[
    Plot.dot(venn,{x:"x",y:"y",r:"v",fill:"c",stroke:"#000",strokeWidth:2.5}),
    Plot.text(venn,{x:"x",y:"y",text:d=>d.v+"%",fill:"#000",fontWeight:"bold",fontSize:d=>d.v>50?29:19}),
    Plot.text(["Redundancy Analysis"],{x:()=>166,y:()=>22,fontFamily:fam,fontWeight:"bold",fontSize:28.4,fill:"#000"}),
    Plot.text(callouts,{x:"x",y:"y",text:"t",fill:"c",fontSize:"s",fontWeight:"bold",textAnchor:"start"})
  ]}),190,140);

// ---- Panel B maps
function map(points,labels,xd,yd,w,h){
  return Plot.plot({
    width:w,height:h,margin:4,
    style:{background:"transparent",fontFamily:fam},
    x:{domain:xd,axis:null},y:{domain:yd,reverse:true,axis:null},
    r:{type:"identity"},color:{type:"identity"},
    marks:[
      Plot.frame({fill:"#111111",stroke:"#a9a9a9",strokeWidth:6,rx:68,ry:68}),
      Plot.dot(points,{x:"x",y:"y",r:"halo",fill:"color",fillOpacity:.2}),
      Plot.dot(points,{x:"x",y:"y",r:"core",fill:"color",fillOpacity:.68}),
      Plot.text(labels,{x:"x",y:"y",text:"t",fill:"c",fontSize:"s",fontWeight:"bold",lineHeight:1.42})
    ]});
}
place(map(topPoints,topLabels,[6,1539],[21,1341],519,448),523,53);
place(map(botPoints,botLabels,[15,1542],[12,1341],517,451),526,550);

// ---- Titles
function heading(top,a,b,c){
  const d=document.createElement("div");d.className="h";d.style.left="562px";d.style.top=top+"px";
  d.innerHTML=`Stimuli colored by <span style="color:#ed1c24">${a}</span>, <span style="color:#00a651">${b}</span>, and <span style="color:#0a3fd8">${c}</span>`;
  root.appendChild(d);
}
heading(24,"CV1","CV2","CV3");heading(520,"CV4","CV5","CV6");
for(const [t,x] of [["A",10],["B",482]]){const d=document.createElement("div");d.className="l";d.textContent=t;d.style.left=x+"px";d.style.top="5px";root.appendChild(d);}
</script></body></html>
